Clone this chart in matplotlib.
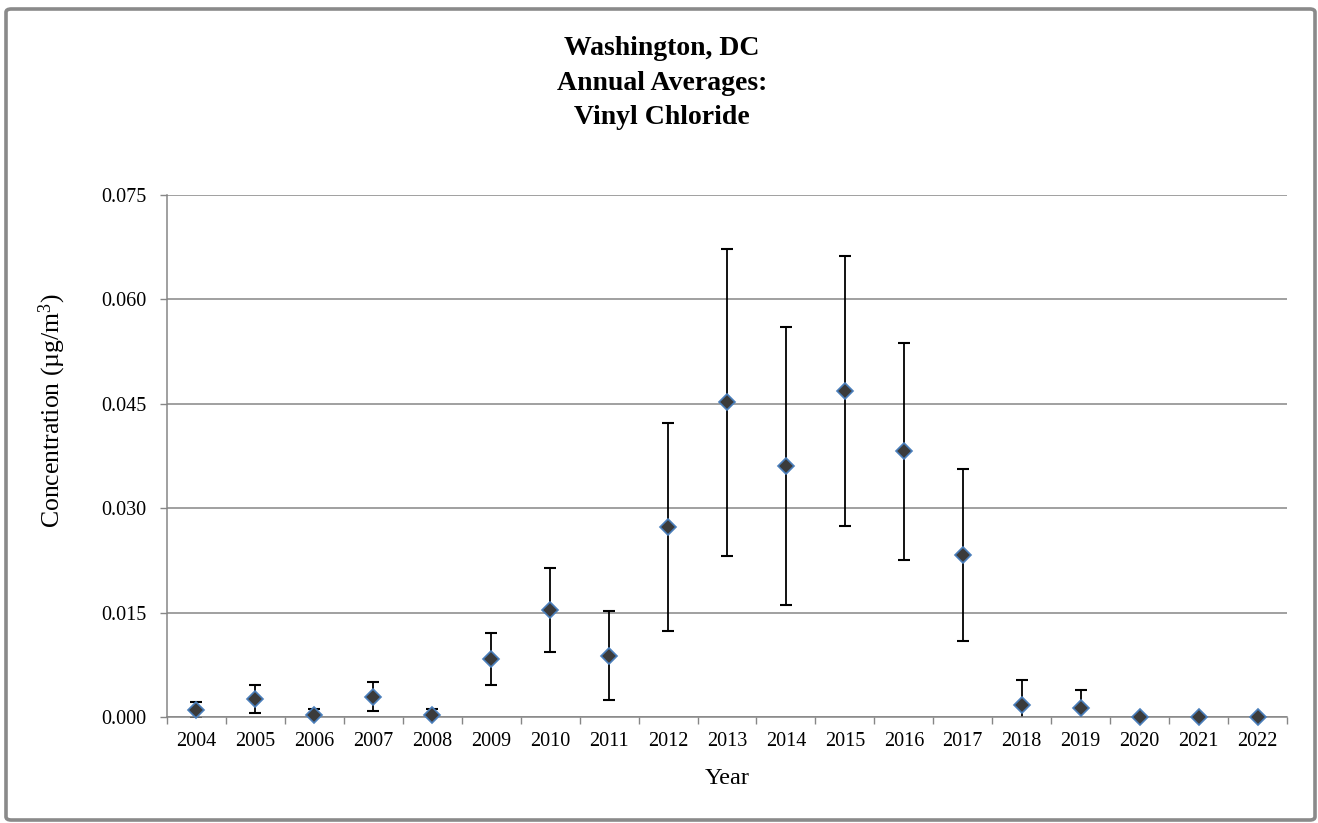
import matplotlib as mplt
mplt.use("Agg")
import matplotlib.pyplot as plt
from matplotlib.patches import FancyBboxPatch
import numpy as np

# Annual averages (ug/m3), with the
# half-width of the confidence interval drawn as the error bar.
YEARS = [str(y) for y in range(2004, 2023)]
MEANS = [0.0010, 0.0026, 0.0003, 0.0029, 0.0003, 0.0083, 0.0154, 0.0088,
         0.0273, 0.0452, 0.0361, 0.0468, 0.0382, 0.0233, 0.0017, 0.0013,
         0.0, 0.0, 0.0]
ERRORS = [0.0012, 0.0020, 0.0009, 0.0021, 0.0009, 0.0037, 0.0060, 0.0064,
          0.0150, 0.0221, 0.0200, 0.0194, 0.0156, 0.0124, 0.0036, 0.0026,
          0.0, 0.0, 0.0]
Y_TICKS = [0.0, 0.015, 0.030, 0.045, 0.060, 0.075]

GRID_GREY = '#868686'
MARKER_FILL = '#3b3b3b'
MARKER_EDGE = '#4a7ebb'

plt.rcParams.update({
    'font.family': ['Liberation Serif', 'DejaVu Serif'],
    'mathtext.fontset': 'custom',
    'mathtext.rm': 'Liberation Serif',
    'mathtext.it': 'Liberation Serif:italic',
    'mathtext.bf': 'Liberation Serif:bold',
})

fig = plt.figure(figsize=(13.18, 8.23), dpi=100)
ax = fig.add_axes([167 / 1318, 1 - 717 / 823, 1120 / 1318, 522 / 823])

x = np.arange(len(YEARS))

ax.errorbar(x, MEANS, yerr=ERRORS, fmt='none', ecolor='black',
            elinewidth=1.3, capsize=4, capthick=1.5, zorder=3)
ax.plot(x, MEANS, linestyle='none', marker='D', markersize=8.5,
        markerfacecolor=MARKER_FILL, markeredgecolor=MARKER_EDGE,
        markeredgewidth=1.2, zorder=5, clip_on=False)

ax.set_xlim(-0.5, len(YEARS) - 0.5)
ax.set_ylim(0, 0.075)
ax.set_yticks(Y_TICKS)
ax.set_yticklabels([f'{v:.3f}' for v in Y_TICKS])
ax.set_xticks(x)
ax.set_xticklabels(YEARS)
ax.set_xticks(np.arange(-0.5, len(YEARS), 1.0), minor=True)

ax.tick_params(axis='x', which='major', length=0, pad=11, labelsize=14.5)
ax.tick_params(axis='x', which='minor', length=5, width=1.0, color=GRID_GREY, direction='out')
ax.tick_params(axis='y', which='major', length=5, width=1.0, color=GRID_GREY,
               pad=10, labelsize=14.5)

ax.grid(axis='y', color=GRID_GREY, linewidth=1.1, zorder=1)
ax.set_axisbelow(True)
for side in ('top', 'right'):
    ax.spines[side].set_visible(False)
for side in ('left', 'bottom'):
    ax.spines[side].set_color(GRID_GREY)
    ax.spines[side].set_linewidth(1.1)
    ax.spines[side].set_zorder(4)

ax.set_xlabel('Year', fontsize=17.5, labelpad=12)
ax.set_ylabel('Concentration (µg/m$^3$)', fontsize=18.5)
ax.yaxis.set_label_coords((68 - 167) / 1120, (717 - 411) / 522)

fig.text(662 / 1318, 1 - 36 / 823, 'Washington, DC\nAnnual Averages:\nVinyl Chloride',
         ha='center', va='top', fontsize=20, fontweight='bold', linespacing=1.5)

# grey chart-area border like the spreadsheet export
border = FancyBboxPatch((6 / 1318, 3 / 823), 1309 / 1318, 811 / 823,
                        boxstyle='round,pad=0,rounding_size=0.004',
                        transform=fig.transFigure, facecolor='none',
                        edgecolor='#8a8a8a', linewidth=2.6)
fig.patches.append(border)

fig.savefig('out.png', dpi=100)
